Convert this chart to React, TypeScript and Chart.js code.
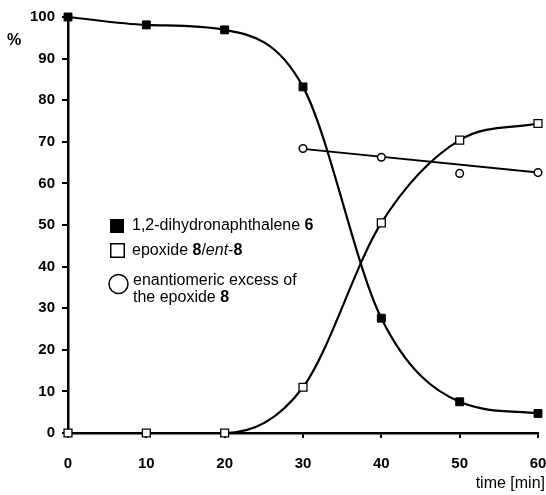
import React, { useEffect, useRef } from "react";
import { Chart, registerables } from "chart.js";

Chart.register(...registerables);

// Data
const timeMin = [0, 10, 20, 30, 40, 50, 60];
const dihydronaphthalene = [100, 98.1, 96.9, 83.2, 27.6, 7.5, 4.7];
const epoxide = [0, 0, 0, 11, 50.5, 70.4, 74.4];
const eeTime = [30, 40, 50, 60];
const eeValues = [68.4, 66.3, 62.4, 62.6];
const eeTrendTime = [30, 60];
const eeTrendValues = [68.3, 62.6];
const xTicks = [0, 10, 20, 30, 40, 50, 60];
const yTicks = [0, 10, 20, 30, 40, 50, 60, 70, 80, 90, 100];

const FONT = '"Liberation Sans", Arial, Helvetica, sans-serif';

type Part = { t: string; b?: boolean; i?: boolean };

const drawRich = (ctx: CanvasRenderingContext2D, x: number, y: number, parts: Part[]) => {
  let cx = x;
  for (const p of parts) {
    ctx.font = `${p.i ? "italic " : ""}${p.b ? "bold " : ""}16px ${FONT}`;
    ctx.fillText(p.t, cx, y);
    cx += ctx.measureText(p.t).width;
  }
};

const textPlugin = {
  id: "textPlugin",
  afterDraw(chart: any) {
    const ctx: CanvasRenderingContext2D = chart.ctx;
    ctx.save();
    ctx.fillStyle = "#000";
    ctx.strokeStyle = "#000";
    ctx.textBaseline = "middle";
    // "%" label
    ctx.font = `bold 16px ${FONT}`;
    ctx.textAlign = "left";
    ctx.fillText("%", 7, 41);
    // x-axis title
    ctx.font = `16px ${FONT}`;
    ctx.textAlign = "right";
    ctx.fillText("time [min]", 545, 484);
    ctx.textAlign = "left";

    // legend
    ctx.fillRect(110, 219, 14, 14);
    drawRich(ctx, 132, 226, [{ t: "1,2-dihydronaphthalene " }, { t: "6", b: true }]);

    ctx.lineWidth = 1.5;
    ctx.strokeRect(110.75, 243.75, 13.5, 13.5);
    drawRich(ctx, 132, 251, [
      { t: "epoxide " },
      { t: "8", b: true },
      { t: "/" },
      { t: "ent", i: true },
      { t: "-" },
      { t: "8", b: true },
    ]);

    ctx.beginPath();
    ctx.arc(118.5, 284, 9.5, 0, Math.PI * 2);
    ctx.stroke();
    drawRich(ctx, 133, 281, [{ t: "enantiomeric excess of" }]);
    drawRich(ctx, 133, 298, [{ t: "the epoxide " }, { t: "8", b: true }]);
    ctx.restore();
  },
};

export default function App() {
  const ref = useRef<HTMLCanvasElement>(null);

  useEffect(() => {
    if (!ref.current) return;
    const toXY = (xs: number[], ys: number[]) => xs.map((x, i) => ({ x, y: ys[i] }));
    const chart = new Chart(ref.current, {
      type: "line",
      data: {
        datasets: [
          {
            label: "ee trend",
            data: toXY(eeTrendTime, eeTrendValues),
            borderColor: "#000",
            borderWidth: 2,
            pointRadius: 0,
            tension: 0,
            clip: false as any,
            order: 3,
          },
          {
            label: "enantiomeric excess of the epoxide 8",
            data: toXY(eeTime, eeValues),
            showLine: false,
            pointStyle: "circle",
            pointRadius: 3.8,
            pointBackgroundColor: "#fff",
            pointBorderColor: "#000",
            pointBorderWidth: 1.5,
            clip: false as any,
            order: 2,
          },
          {
            label: "epoxide 8/ent-8",
            data: toXY(timeMin, epoxide),
            borderColor: "#000",
            borderWidth: 2.2,
            cubicInterpolationMode: "monotone",
            pointStyle: "rect",
            pointRadius: 5.6,
            pointBackgroundColor: "#fff",
            pointBorderColor: "#000",
            pointBorderWidth: 1.3,
            clip: false as any,
            order: 1,
          },
          {
            label: "1,2-dihydronaphthalene 6",
            data: toXY(timeMin, dihydronaphthalene),
            borderColor: "#000",
            borderWidth: 2.2,
            cubicInterpolationMode: "monotone",
            pointStyle: "rect",
            pointRadius: 5.6,
            pointBackgroundColor: "#000",
            pointBorderColor: "#000",
            pointBorderWidth: 1,
            clip: false as any,
            order: 0,
          },
        ],
      },
      options: {
        animation: false,
        responsive: false,
        events: [],
        layout: { padding: { top: 17, right: 8, left: 0, bottom: 0 } },
        plugins: { legend: { display: false }, tooltip: { enabled: false } },
        scales: {
          x: {
            type: "linear",
            min: 0,
            max: 60,
            afterBuildTicks: (axis: any) => {
              axis.ticks = xTicks.map((v) => ({ value: v }));
            },
            afterFit: (axis: any) => {
              axis.height = 62;
              axis.paddingLeft = 0;
              axis.paddingRight = 0;
            },
            border: { display: true, color: "#000", width: 2.5 },
            grid: { drawOnChartArea: false, drawTicks: true, tickLength: 5, color: "#000", lineWidth: 2 },
            ticks: {
              color: "#000",
              font: { family: FONT, size: 15, weight: "bold" },
              padding: 17,
              maxRotation: 0,
              autoSkip: false,
            },
          },
          y: {
            type: "linear",
            min: 0,
            max: 100,
            afterBuildTicks: (axis: any) => {
              axis.ticks = yTicks.map((v) => ({ value: v }));
            },
            afterFit: (axis: any) => {
              axis.width = 68;
            },
            border: { display: true, color: "#000", width: 2.5 },
            grid: { drawOnChartArea: false, drawTicks: true, tickLength: 6, color: "#000", lineWidth: 2 },
            ticks: {
              color: "#000",
              font: { family: FONT, size: 15, weight: "bold" },
              padding: 7,
              autoSkip: false,
            },
          },
        },
      },
      plugins: [textPlugin],
    } as any);
    return () => chart.destroy();
  }, []);

  return (
    <div style={{ position: "absolute", left: 0, top: 0, width: 546, height: 495, background: "#fff" }}>
      <canvas ref={ref} width={546} height={495} style={{ display: "block", width: 546, height: 495 }} />
    </div>
  );
}
